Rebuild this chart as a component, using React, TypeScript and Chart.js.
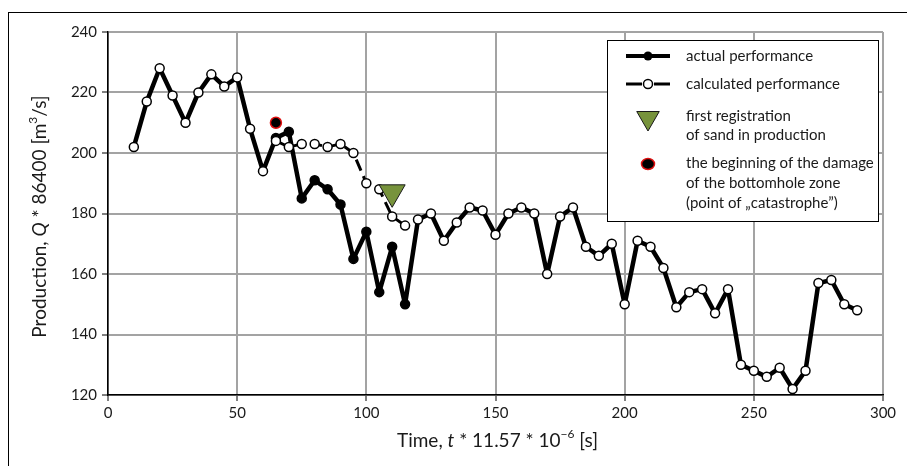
import React, { useEffect, useRef } from "react";
import { Chart, registerables } from "chart.js";

Chart.register(...registerables);

// ---------- data ----------
const timeValues = [
  10, 15, 20, 25, 30, 35, 40, 45, 50, 55, 60, 65, 70, 75, 80, 85, 90, 95, 100, 105, 110, 115,
  120, 125, 130, 135, 140, 145, 150, 155, 160, 165, 170, 175, 180, 185, 190, 195, 200, 205,
  210, 215, 220, 225, 230, 235, 240, 245, 250, 255, 260, 265, 270, 275, 280, 285, 290,
];
const actualValues = [
  202, 217, 228, 219, 210, 220, 226, 222, 225, 208, 194, 205, 207, 185, 191, 188, 183, 165, 174, 154, 169, 150,
  178, 180, 171, 177, 182, 181, 173, 180, 182, 180, 160, 179, 182, 169, 166, 170, 150, 171,
  169, 162, 149, 154, 155, 147, 155, 130, 128, 126, 129, 122, 128, 157, 158, 150, 148,
];
const calcTime = [65, 70, 75, 80, 85, 90, 95, 100, 105, 110, 115];
const calcValues = [204, 202, 203, 203, 202, 203, 200, 190, 188, 179, 176];
const sandTime = [110];
const sandValues = [187];
const catastropheTime = [65];
const catastropheValues = [210];
const xTickValues = [0, 50, 100, 150, 200, 250, 300];
const yTickValues = [120, 140, 160, 180, 200, 220, 240];
const legendLabels: string[][] = [
  ["actual performance"],
  ["calculated performance"],
  ["first registration", "of sand in production"],
  ["the beginning of the damage", "of the bottomhole zone", "(point of \u201Ecatastrophe\u201D)"],
];

const FONT = "Lato, 'Liberation Sans', sans-serif";
const TEXT = "#1a1a1a";
const GREEN = "#77933C";

type Seg = { t: string; italic?: boolean; sup?: boolean };

function drawRich(ctx: CanvasRenderingContext2D, segs: Seg[], cx: number, cy: number, size: number) {
  const fontFor = (s: Seg) =>
    `${s.italic ? "italic " : ""}${s.sup ? Math.round(size * 0.65) : size}px ${FONT}`;
  let total = 0;
  for (const s of segs) {
    ctx.font = fontFor(s);
    total += ctx.measureText(s.t).width;
  }
  let x = cx - total / 2;
  ctx.textBaseline = "middle";
  ctx.textAlign = "left";
  ctx.fillStyle = TEXT;
  for (const s of segs) {
    ctx.font = fontFor(s);
    ctx.fillText(s.t, x, s.sup ? cy - size * 0.35 : cy);
    x += ctx.measureText(s.t).width;
  }
}

const decorPlugin = {
  id: "decor",
  beforeDraw(chart: any) {
    const ctx = chart.ctx as CanvasRenderingContext2D;
    ctx.save();
    ctx.fillStyle = "#fff";
    ctx.fillRect(0, 0, chart.width, chart.height);
    ctx.strokeStyle = "#000";
    ctx.lineWidth = 1;
    ctx.strokeRect(8.5, 12.5, chart.width + 20, chart.height + 20);
    ctx.restore();
  },
  afterDraw(chart: any) {
    const ctx = chart.ctx as CanvasRenderingContext2D;
    const area = chart.chartArea;
    ctx.save();
    // axis titles
    ctx.save();
    ctx.translate(40, (area.top + area.bottom) / 2 + 3);
    ctx.rotate(-Math.PI / 2);
    drawRich(
      ctx,
      [
        { t: "Production, " },
        { t: "Q", italic: true },
        { t: " * 86400 [m" },
        { t: "3", sup: true },
        { t: "/s]" },
      ],
      0,
      0,
      19
    );
    ctx.restore();
    drawRich(
      ctx,
      [
        { t: "Time, " },
        { t: "t", italic: true },
        { t: " * 11.57 * 10" },
        { t: "\u22126", sup: true },
        { t: " [s]" },
      ],
      (area.left + area.right) / 2 + 2,
      area.bottom + 46,
      19
    );

    // legend box
    const bx = area.right - 276;
    const by = area.top + 8;
    const bw = 271;
    const bh = 181;
    ctx.fillStyle = "#fff";
    ctx.fillRect(bx, by, bw, bh);
    ctx.strokeStyle = "#000";
    ctx.lineWidth = 1;
    ctx.strokeRect(Math.round(bx) + 0.5, Math.round(by) + 0.5, bw, bh);

    const mx = bx + 41;
    const tx = bx + 79;
    // entry 1
    let y = by + 16;
    ctx.strokeStyle = "#000";
    ctx.lineWidth = 4;
    ctx.beginPath();
    ctx.moveTo(mx - 22, y);
    ctx.lineTo(mx + 22, y);
    ctx.stroke();
    ctx.fillStyle = "#000";
    ctx.beginPath();
    ctx.arc(mx, y, 4.5, 0, Math.PI * 2);
    ctx.fill();
    // entry 2
    y = by + 44;
    ctx.lineWidth = 3;
    ctx.beginPath();
    ctx.moveTo(mx - 22, y);
    ctx.lineTo(mx - 6, y);
    ctx.moveTo(mx + 6, y);
    ctx.lineTo(mx + 22, y);
    ctx.stroke();
    ctx.fillStyle = "#fff";
    ctx.lineWidth = 1.5;
    ctx.beginPath();
    ctx.arc(mx, y, 4.5, 0, Math.PI * 2);
    ctx.fill();
    ctx.stroke();
    // entry 3 triangle
    y = by + 78;
    const r = 13;
    ctx.fillStyle = GREEN;
    ctx.strokeStyle = "#1a1a1a";
    ctx.lineWidth = 1;
    ctx.beginPath();
    ctx.moveTo(mx - r * 0.866, y - r / 2);
    ctx.lineTo(mx + r * 0.866, y - r / 2);
    ctx.lineTo(mx, y + r);
    ctx.closePath();
    ctx.fill();
    ctx.stroke();
    // entry 4 red dot
    y = by + 124;
    ctx.fillStyle = "#000";
    ctx.strokeStyle = "#e01010";
    ctx.lineWidth = 1.5;
    ctx.beginPath();
    ctx.ellipse(mx, y, 6.5, 5.5, 0, 0, Math.PI * 2);
    ctx.fill();
    ctx.stroke();

    // legend texts
    ctx.fillStyle = TEXT;
    ctx.font = `15px ${FONT}`;
    ctx.textAlign = "left";
    ctx.textBaseline = "middle";
    const textYs = [[by + 16], [by + 44], [by + 76, by + 95], [by + 123, by + 143, by + 163]];
    legendLabels.forEach((lines, i) => {
      lines.forEach((line, j) => ctx.fillText(line, tx, textYs[i][j]));
    });
    ctx.restore();
  },
};

export default function App() {
  const canvasRef = useRef<HTMLCanvasElement | null>(null);

  useEffect(() => {
    if (!canvasRef.current) return;
    const markerColors = timeValues.map((t) =>
      t >= calcTime[0] && t <= calcTime[calcTime.length - 1] ? "#000" : "#fff"
    );
    const chart = new Chart(canvasRef.current, {
      type: "line",
      data: {
        datasets: [
          {
            label: "actual performance",
            data: timeValues.map((t, i) => ({ x: t, y: actualValues[i] })),
            borderColor: "#000",
            borderWidth: 4.5,
            borderJoinStyle: "round",
            borderCapStyle: "round",
            pointRadius: 4.5,
            pointBorderWidth: 1.5,
            pointBorderColor: "#000",
            pointBackgroundColor: markerColors,
            tension: 0,
            order: 4,
          },
          {
            label: "calculated performance",
            data: calcTime.map((t, i) => ({ x: t, y: calcValues[i] })),
            borderColor: "#000",
            borderWidth: 3,
            borderDash: [12, 6],
            borderJoinStyle: "round",
            pointRadius: 4.5,
            pointBorderWidth: 1.5,
            pointBorderColor: "#000",
            pointBackgroundColor: "#fff",
            tension: 0,
            order: 3,
          },
          {
            label: "first registration of sand in production",
            data: sandTime.map((t, i) => ({ x: t, y: sandValues[i] })),
            showLine: false,
            pointStyle: "triangle",
            rotation: 180,
            pointRadius: 15,
            pointBackgroundColor: GREEN,
            pointBorderColor: "#1a1a1a",
            pointBorderWidth: 1,
            order: 2,
          },
          {
            label: "the beginning of the damage",
            data: catastropheTime.map((t, i) => ({ x: t, y: catastropheValues[i] })),
            showLine: false,
            pointRadius: 5.5,
            pointBackgroundColor: "#000",
            pointBorderColor: "#e01010",
            pointBorderWidth: 1.5,
            order: 1,
          },
        ],
      },
      options: {
        animation: false,
        responsive: false,
        devicePixelRatio: 1,
        layout: { padding: { left: 68, right: 24, top: 32, bottom: 41 } },
        plugins: { legend: { display: false }, tooltip: { enabled: false } },
        scales: {
          x: {
            type: "linear",
            min: 0,
            max: 300,
            afterBuildTicks: (scale: any) => {
              scale.ticks = xTickValues.map((v) => ({ value: v }));
            },
            afterFit: (scale: any) => {
              scale.height = 30;
            },
            grid: { color: "#a3a3a3", lineWidth: 2, tickColor: "#000", tickWidth: 1, tickLength: 6 },
            border: { color: "#000", width: 1.5 },
            ticks: { color: TEXT, font: { family: FONT, size: 15 }, padding: 3, maxRotation: 0 },
          },
          y: {
            type: "linear",
            min: 120,
            max: 240,
            afterBuildTicks: (scale: any) => {
              scale.ticks = yTickValues.map((v) => ({ value: v }));
            },
            afterFit: (scale: any) => {
              scale.width = 40;
            },
            grid: { color: "#a3a3a3", lineWidth: 2, tickColor: "#000", tickWidth: 1, tickLength: 6 },
            border: { color: "#000", width: 1.5 },
            ticks: { color: TEXT, font: { family: FONT, size: 15 }, padding: 5 },
          },
        },
      },
      plugins: [decorPlugin],
    });
    return () => chart.destroy();
  }, []);

  return (
    <div style={{ position: "fixed", left: 0, top: 0, width: 907, height: 466, overflow: "hidden" }}>
      <canvas ref={canvasRef} width={907} height={466} style={{ display: "block" }} />
    </div>
  );
}
